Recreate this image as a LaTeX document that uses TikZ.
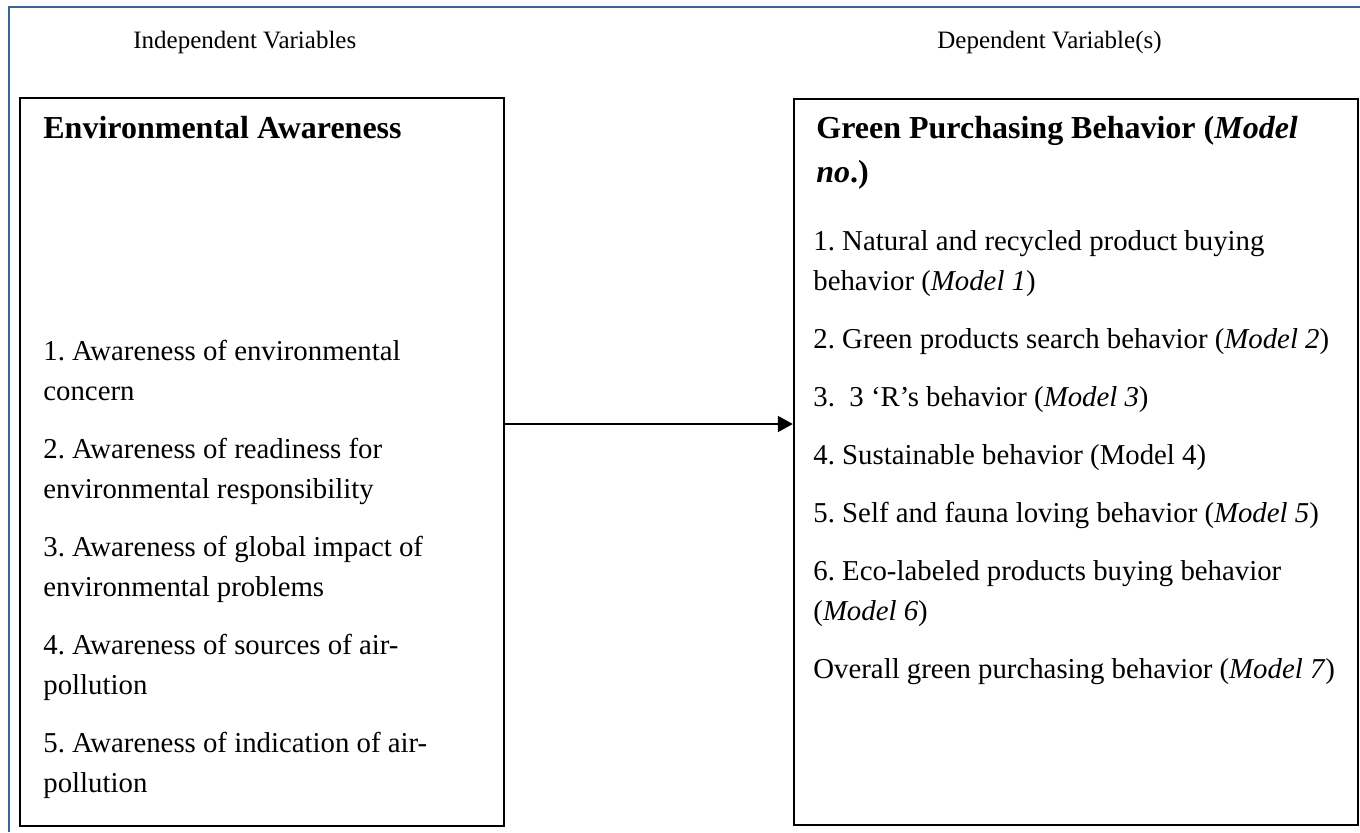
\documentclass[tikz,border=0pt]{standalone}
\usepackage{fontspec}
\setmainfont{Liberation Serif}
\usetikzlibrary{positioning,calc,fit,arrows.meta}
\definecolor{pageblue}{RGB}{56,100,150}
\frenchspacing
\tikzset{
	varbox/.style={draw=black, line width=1.2pt, inner sep=0pt},
	captext/.style={anchor=base west, inner sep=0pt, font=\fontsize{12.5}{14}\selectfont},
	headtext/.style={anchor=base west, align=left, inner sep=0pt, font=\fontsize{16}{22}\selectfont\bfseries},
	itemtext/.style={anchor=base west, align=left, inner sep=0pt, font=\fontsize{14.4}{20}\selectfont},
	connector/.style={line width=1pt, -{Triangle[length=7.5pt,width=8pt]}}
}

\begin{document}
\begin{tikzpicture}[x=0.5pt, y=-0.5pt]
		\useasboundingbox (0,0) rectangle (1360,832);
		% page frame
		\draw[pageblue, line width=0.8pt] (9,832) -- (9,7) -- (1360,7);

		\coordinate(A) at (20,98);
		\coordinate(B) at (504,826);
		\coordinate(C) at (794,99);
		\coordinate(D) at (1358,825);
		\coordinate(arrowlevel) at (0,424);

		\node[varbox, fit=(A)(B)] (envbox) {};
		\node[varbox, fit=(C)(D)] (gpbbox) {};

		\node[captext] (indep) at (133,48) {Independent Variables};
		\node[captext] (dep) at (937,48) {Dependent Variable(s)};

		% multi-line nodes sit on the baseline of their last line
		\node[headtext] (envhead) at (43,138) {Environmental Awareness};
		\node[itemtext] (envlist) at (43,792) {1. Awareness of environmental\\ concern\\[9pt]
			2. Awareness of readiness for\\ environmental responsibility\\[9pt]
			3. Awareness of global impact of\\ environmental problems\\[9pt]
			4. Awareness of sources of air-\\ pollution\\[9pt]
			5. Awareness of indication of air-\\ pollution};

		\node[headtext] (gpbhead) at (816,182) {Green Purchasing Behavior (\textit{Model}\\ \textit{no}.)};
		\node[itemtext] (gpblist) at (813,678) {1. Natural and recycled product buying\\ behavior (\textit{Model 1})\\[9pt]
			2. Green products search behavior (\textit{Model 2})\\[9pt]
			3.\ \ 3 `R's behavior (\textit{Model 3})\\[9pt]
			4. Sustainable behavior (Model 4)\\[9pt]
			5. Self and fauna loving behavior (\textit{Model 5})\\[9pt]
			6. Eco-labeled products buying behavior\\ (\textit{Model 6})\\[9pt]
			Overall green purchasing behavior (\textit{Model 7})};

		\draw[connector] (envbox.east |- arrowlevel) -- (gpbbox.west |- arrowlevel);
	\end{tikzpicture}
\end{document}
